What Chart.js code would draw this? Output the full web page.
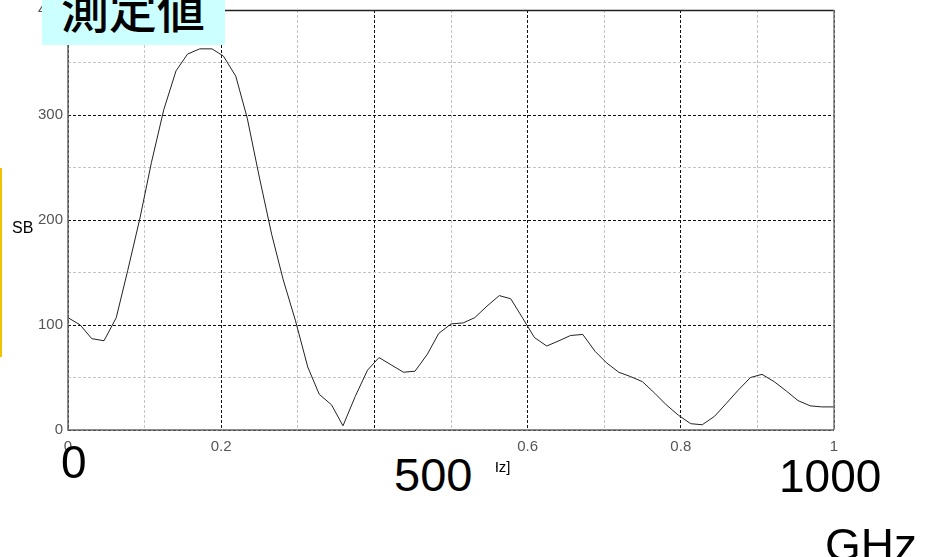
<!DOCTYPE html>
<html>
<head>
<meta charset="utf-8">
<script src="https://cdn.jsdelivr.net/npm/chart.js@4.4.0/dist/chart.umd.min.js"></script>
<style>
  html, body { margin: 0; padding: 0; background: #fff; }
  #wrap { position: relative; width: 925px; height: 557px; overflow: hidden; font-family: "Liberation Sans", Arial, sans-serif; }
  #chart { position: absolute; left: 0; top: 0; }
  .ov { position: absolute; white-space: nowrap; color: #000; }
</style>
</head>
<body>
<div id="wrap">
  <canvas id="chart" width="925" height="557"></canvas>
  <div class="ov" style="left:0;top:168px;width:2px;height:189px;background:#f2c200;"></div>
  <div class="ov" style="left:12px;top:219px;font-size:16px;">SB</div>
  <div class="ov" style="left:488px;top:458px;font-size:15px;">Hz]</div>
  <div class="ov" style="left:42px;top:-2px;width:183px;height:47px;background:#ccffff;"></div>
  <div class="ov" style="left:61px;top:-17px;font-size:48px;line-height:48px;font-weight:500;font-family:'Noto Sans CJK JP';">測定値</div>
  <div class="ov" style="left:61px;top:435px;font-size:46px;">0</div>
  <div class="ov" style="left:394px;top:447px;font-size:47px;background:#fff;padding-right:24px;">500</div>
  <div class="ov" style="left:779px;top:449px;font-size:46px;">1000</div>
  <div class="ov" style="left:825px;top:518px;font-size:46px;">GHz</div>
</div>
<script>
// ---- data ----
var freqX = [0, 0.016, 0.031, 0.047, 0.063, 0.078, 0.094, 0.109, 0.125, 0.141,
    0.156, 0.172, 0.188, 0.203, 0.219, 0.234, 0.25, 0.266, 0.281, 0.297,
    0.313, 0.328, 0.344, 0.359, 0.375, 0.391, 0.406, 0.422, 0.438, 0.453,
    0.469, 0.484, 0.5, 0.516, 0.531, 0.547, 0.563, 0.578, 0.594, 0.609,
    0.625, 0.641, 0.656, 0.672, 0.688, 0.703, 0.719, 0.734, 0.75, 0.766,
    0.781, 0.797, 0.813, 0.828, 0.844, 0.859, 0.875, 0.891, 0.906, 0.922,
    0.938, 0.953, 0.969, 0.984, 1];
var sbValues = [107, 100, 87, 85, 107, 152, 202, 255, 305, 342,
    358, 363, 363, 356, 337, 297, 240, 186, 143, 104,
    60, 34, 24, 4, 32, 57, 69, 62, 55, 56,
    72, 92, 101, 102, 107, 118, 128, 125, 106, 88,
    80, 85, 90, 91, 75, 64, 55, 51, 46, 35,
    24, 14, 6, 5, 13, 25, 38, 50, 53, 46,
    37, 28, 23, 22, 22];
var xTickLabels = [0, 0.2, 0.6, 0.8, 1];   // 0.4 is hidden under the "500" box
var yTickLabels = [0, 100, 200, 300, 400];

var points = freqX.map(function(v, i) {
    return {x: v, y: sbValues[i]};
});

function near(list, v) {
    return list.some(function(t) { return Math.abs(t - v) < 1e-6; });
}

// frame round the plot area
var framePlugin = {
    id: 'frame',
    afterDraw: function(chart) {
        var a = chart.chartArea, ctx = chart.ctx;
        ctx.save();
        ctx.lineWidth = 1.5;
        ctx.strokeStyle = '#222';
        ctx.beginPath(); ctx.moveTo(a.left, a.top + 0.5); ctx.lineTo(a.right, a.top + 0.5); ctx.stroke();
        ctx.strokeStyle = '#777';
        ctx.beginPath(); ctx.moveTo(a.right, a.top); ctx.lineTo(a.right, a.bottom); ctx.stroke();
        ctx.strokeStyle = '#666';
        ctx.beginPath(); ctx.moveTo(a.left, a.top); ctx.lineTo(a.left, a.bottom); ctx.lineTo(a.right, a.bottom); ctx.stroke();
        ctx.restore();
    }
};

var chrt = document.getElementById('chart').getContext('2d');
var config = {
    type: 'line',
    data: {
        datasets: [{
            data: points,
            borderColor: '#222',
            borderWidth: 1,
            pointRadius: 0,
            tension: 0,
            fill: false
        }]
    },
    options: {
        responsive: false,
        animation: false,
        devicePixelRatio: 1,
        layout: { padding: { left: 0, top: 10, right: 91, bottom: 0 } },
        plugins: { legend: { display: false }, tooltip: { enabled: false } },
        scales: {
            x: {
                type: 'linear',
                min: 0,
                max: 1,
                afterFit: function(s) { s.height = 127; s.paddingLeft = 0; s.paddingRight = 0; },
                ticks: {
                    stepSize: 0.1,
                    padding: 8,
                    maxRotation: 0,
                    autoSkip: false,
                    color: '#555',
                    font: { family: 'Liberation Sans', size: 15 },
                    callback: function(v) {
                        var r = Math.round(v * 10) / 10;
                        return near(xTickLabels, r) ? String(r) : '';
                    }
                },
                grid: {
                    drawTicks: false,
                    lineWidth: 1,
                    color: function(c) {
                        var r = Math.round(c.tick.value * 10);
                        return r % 2 === 0 ? '#111' : '#c4c4c4';
                    }
                },
                border: { display: false, dash: [3, 2] }
            },
            y: {
                min: 0,
                max: 400,
                afterFit: function(s) { s.width = 68; s.paddingTop = 0; s.paddingBottom = 0; },
                ticks: {
                    stepSize: 50,
                    padding: 5,
                    autoSkip: false,
                    color: '#555',
                    font: { family: 'Liberation Sans', size: 15 },
                    callback: function(v) {
                        return near(yTickLabels, v) ? String(v) : '';
                    }
                },
                grid: {
                    drawTicks: false,
                    lineWidth: 1,
                    color: function(c) {
                        return c.tick.value % 100 === 0 ? '#111' : '#c4c4c4';
                    }
                },
                border: { display: false, dash: [3, 2] }
            }
        }
    },
    plugins: [framePlugin]
};

var chart = new Chart(chrt, config);
</script>
</body>
</html>
